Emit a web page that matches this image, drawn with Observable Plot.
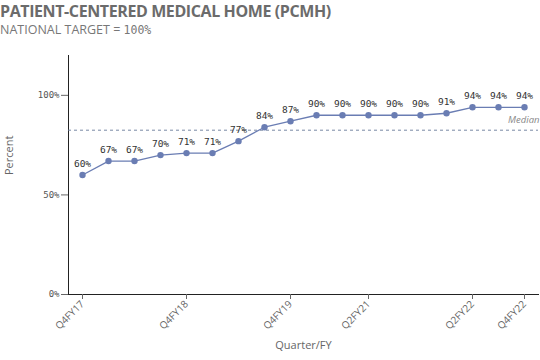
<!DOCTYPE html>
<html><head><meta charset="utf-8">
<script src="https://cdn.jsdelivr.net/npm/d3@7"></script>
<script src="https://cdn.jsdelivr.net/npm/@observablehq/plot@0.6"></script>
<style>
body{margin:0;background:#fff;font-family:"Open Sans",sans-serif;}
#h{height:40px;position:relative;}
#t{position:absolute;left:0;top:0;font:700 16px "Open Sans",sans-serif;color:#6b6b6b;letter-spacing:-0.4px;}
#s{position:absolute;left:0;top:21px;font:400 12.5px "Open Sans",sans-serif;color:#777;}
#s span{font-family:"DejaVu Sans Mono",monospace;font-size:11.5px;}
</style></head>
<body>
<div id="h"><div id="t">PATIENT-CENTERED MEDICAL HOME (PCMH)</div><div id="s">NATIONAL TARGET = <span>100%</span></div></div>
<div id="c"></div>
<script>
const quarters = ["Q4FY17","Q1FY18","Q2FY18","Q3FY18","Q4FY18","Q1FY19","Q2FY19","Q3FY19","Q4FY19","Q4FY20","Q1FY21","Q2FY21","Q3FY21","Q4FY21","Q1FY22","Q2FY22","Q3FY22","Q4FY22"];
const values = [60,67,67,70,71,71,77,84,87,90,90,90,90,90,91,94,94,94];
const tickLabels = ["Q4FY17","Q4FY18","Q4FY19","Q2FY21","Q2FY22","Q4FY22"];
const yTicks = [0,50,100];
const median = 82.5;

const data = quarters.map((q,i)=>({q, v: values[i]}));
const col = "#6a7db3";
const chart = Plot.plot({
  width: 540, height: 320,
  marginLeft: 68, marginRight: 2, marginTop: 15, marginBottom: 66,
  style: {fontFamily: "'Open Sans',sans-serif", color: "#666", background: "#fff"},
  x: {type: "point", domain: quarters, padding: 0.52, label: null},
  y: {domain: [0,120], label: null},
  marks: [
    Plot.frame({anchor: "left", stroke: "#222"}),
    Plot.frame({anchor: "bottom", stroke: "#222"}),
    Plot.axisY({ticks: yTicks, tickFormat: d => d + "%", tickSize: 7, tickPadding: 2, fontSize: 9, fontFamily: "DejaVu Sans Mono", stroke: "#666", fill: "#555", label: null}),
    Plot.axisX({ticks: tickLabels, tickSize: 5, tickRotate: -45, fontSize: 10, fill: "#666", stroke: "#666", tickPadding: 3, label: null}),
    Plot.ruleY([median], {stroke: "#6a7b9a", strokeDasharray: "3,3", strokeWidth: 0.9}),
    Plot.text([median], {x: () => quarters[quarters.length-1], y: d => d, text: () => "Median", dy: -10, textAnchor: "end", dx: 15, fontStyle: "italic", fontSize: 9.5, fill: "#888"}),
    Plot.line(data, {x: "q", y: "v", stroke: col, strokeWidth: 1.3}),
    Plot.dot(data, {x: "q", y: "v", r: 3.2, fill: col, stroke: "none"}),
    Plot.text(data, {x: "q", y: "v", text: d => d.v + "%", dy: -11, fontSize: 9.5, fontFamily: "DejaVu Sans Mono", fill: "#333"}),
    Plot.text(["Percent"], {frameAnchor: "left", dx: -59, rotate: -90, fontSize: 11, fill: "#666"}),
    Plot.text(["Quarter/FY"], {frameAnchor: "bottom", dy: 54, fontSize: 11, fill: "#666"})
  ]
});
document.getElementById("c").appendChild(chart);
</script>
</body></html>
